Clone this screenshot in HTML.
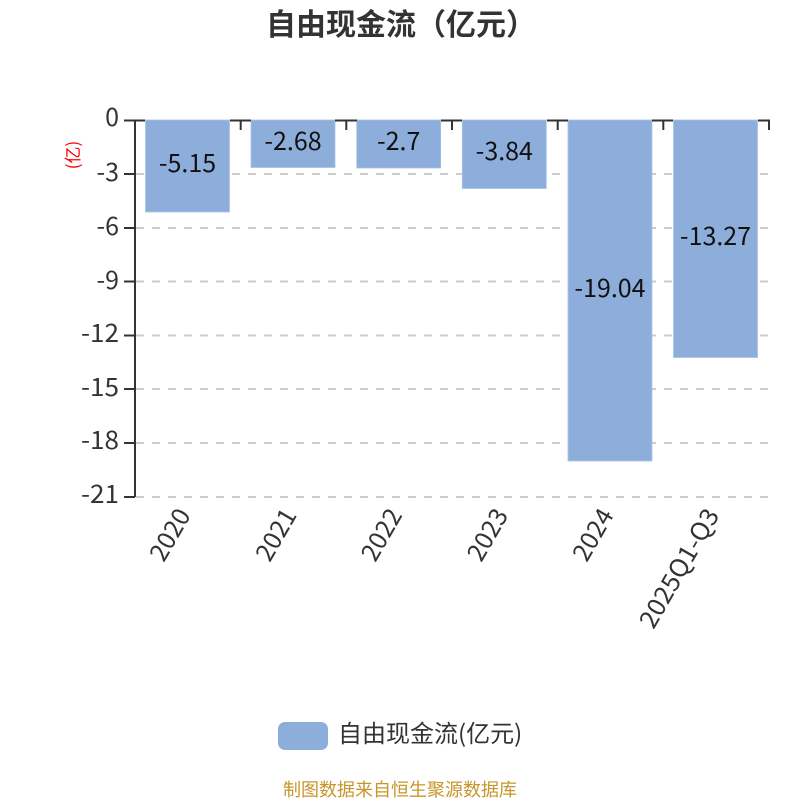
<!DOCTYPE html>
<html><head><meta charset="utf-8">
<style>
html,body{margin:0;padding:0;background:#fff}
svg{display:block}
text{font-family:"Noto Sans CJK SC","Liberation Sans",sans-serif}
</style></head>
<body>
<svg width="800" height="800" viewBox="0 0 800 800" xmlns="http://www.w3.org/2000/svg">
<rect width="800" height="800" fill="#fff"/>
<text x="266" y="35" font-size="30" font-weight="700" fill="#333">自由现金流（亿元）</text>
<g stroke="#ccc" stroke-width="2" stroke-dasharray="8 8" fill="none">
<path d="M136 174H769M136 228H769M136 281.500H769M136 335.500H769M136 389H769M136 443H769M136 497H769"/>
</g>
<g fill="#8dadda" stroke="#a9c3e6" stroke-width="0.800">
<rect x="145.500" y="120" width="84" height="92"/>
<rect x="251" y="120" width="84" height="47.500"/>
<rect x="356.700" y="120" width="84" height="48"/>
<rect x="462.300" y="120" width="84" height="68.500"/>
<rect x="568" y="120" width="84" height="341"/>
<rect x="673.500" y="120" width="84" height="237.500"/>
</g>
<g stroke="#333" stroke-width="2" fill="none">
<path d="M135 120V497"/>
<path d="M124 120.500H145M230 120.500H251M335 120.500H357M441 120.500H462M547 120.500H568M652 120.500H673M758 120.500H770"/>
<path d="M240.700 120V130M346.300 120V130M452 120V130M557.700 120V130M663.300 120V130M769 120V130"/>
<path d="M124 174H135M124 228H135M124 281.500H135M124 335.500H135M124 389H135M124 443H135M124 497H135"/>
</g>
<g font-size="25" fill="#333" text-anchor="end">
<text x="119" y="126">0</text>
<text x="119" y="181">-3</text>
<text x="119" y="235">-6</text>
<text x="119" y="289">-9</text>
<text x="119" y="342" textLength="38" lengthAdjust="spacingAndGlyphs">-12</text>
<text x="119" y="396" textLength="38" lengthAdjust="spacingAndGlyphs">-15</text>
<text x="119" y="449" textLength="38" lengthAdjust="spacingAndGlyphs">-18</text>
<text x="119" y="503" textLength="38" lengthAdjust="spacingAndGlyphs">-21</text>
</g>
<text transform="translate(79 155) rotate(-90)" text-anchor="middle" font-size="17" fill="#f00">(亿)</text>
<g font-size="25" fill="#111" text-anchor="middle">
<text x="187.500" y="172">-5.15</text>
<text x="293" y="150">-2.68</text>
<text x="398.700" y="150">-2.7</text>
<text x="504.300" y="160">-3.84</text>
<text x="610" y="297">-19.04</text>
<text x="715.500" y="245">-13.27</text>
</g>
<g font-size="25" fill="#333" text-anchor="end">
<text transform="translate(191.500 515) rotate(-60)">2020</text>
<text transform="translate(297.500 515) rotate(-60)">2021</text>
<text transform="translate(403 515) rotate(-60)">2022</text>
<text transform="translate(509 515) rotate(-60)">2023</text>
<text transform="translate(614.500 515) rotate(-60)">2024</text>
<text transform="translate(720 515) rotate(-60)" textLength="133" lengthAdjust="spacingAndGlyphs">2025Q1-Q3</text>
</g>
<rect x="278" y="722" width="50" height="28" rx="7" fill="#8dadda"/>
<text x="338" y="742" font-size="24" fill="#333">自由现金流(亿元)</text>
<text x="400" y="796" text-anchor="middle" font-size="18" fill="#c8952a">制图数据来自恒生聚源数据库</text>
</svg>
</body></html>
